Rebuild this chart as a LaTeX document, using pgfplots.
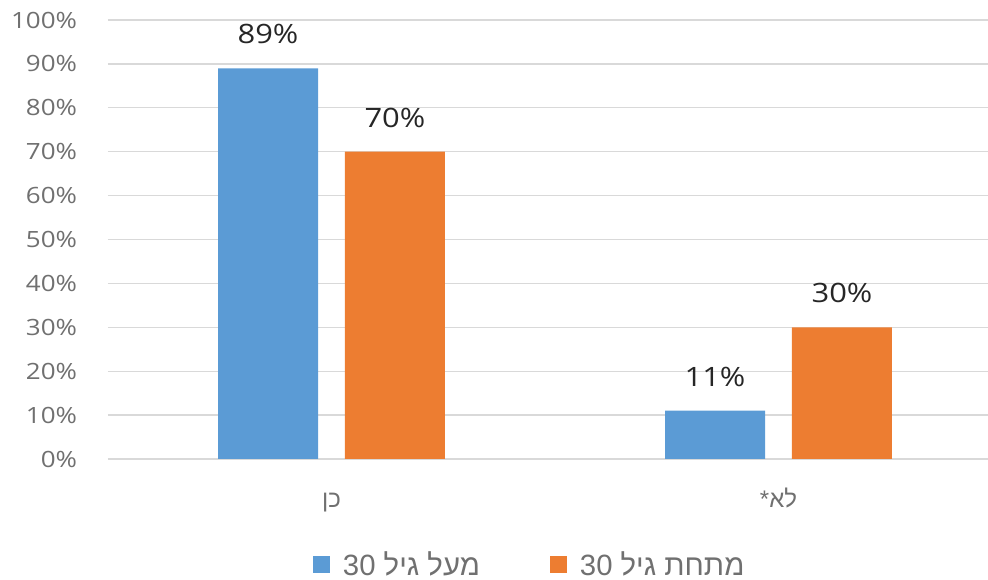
\documentclass[border=0pt]{standalone}
\usepackage{fontspec}
\setmainfont{Open Sans}[FakeStretch=1.16]
\newfontfamily\hebfont[Script=Hebrew]{Liberation Sans}
\TeXXeTstate=1
\usepackage{pgfplots}
\pgfplotsset{compat=1.18}

\definecolor{barblue}{HTML}{5B9BD5}
\definecolor{barorange}{HTML}{ED7D31}
\definecolor{gridgray}{HTML}{D9D9D9}
\definecolor{ticktext}{HTML}{707070}
\definecolor{labeltext}{HTML}{262626}

\begin{document}
\begin{tikzpicture}
% page = 988x580 px at 0.75pt/px, axis box at px (108..988, 20..459)
\useasboundingbox (-81pt,-90.75pt) rectangle (660pt,344.25pt);
\begin{axis}[
  at={(0,0)}, anchor=south west,
  scale only axis,
  width=660pt, height=329.25pt,
  xmin=-0.5, xmax=1.4687,
  ymin=0, ymax=100,
  axis line style={draw=none},
  tick style={draw=none},
  ytick={0,10,...,100},
  yticklabel={\pgfmathprintnumber{\tick}\%},
  /pgf/number format/assume math mode=true,
  yticklabel style={font=\fontsize{16.8}{20}\selectfont, color=ticktext, anchor=east, inner sep=0pt, xshift=-23pt},
  xtick={0,1},
  xticklabels={{\hebfont\beginR כן\endR},{\hebfont\beginR לא*\endR}},
  xticklabel style={font=\fontsize{18}{22}\selectfont, color=ticktext, anchor=base, inner sep=0pt, yshift=-32pt},
  ymajorgrids,
  grid style={gridgray, line width=1pt},
  ybar,
  bar width=0.2237,
  nodes near coords={\pgfmathprintnumber{\pgfplotspointmeta}\%},
  nodes near coords style={font=\fontsize{20}{24}\selectfont, color=labeltext, anchor=south, inner sep=0pt, yshift=18pt},
  legend image code/.code={\fill[#1] (0pt,-6.4pt) rectangle (12.75pt,6.4pt);},
  legend style={
    at={(0.233,-0.2403)}, anchor=west,
    draw=none, fill=none, inner sep=0pt,
    font=\fontsize{22}{26}\selectfont, text=ticktext,
    legend columns=2,
    /tikz/every odd column/.style={column sep=7.5pt},
    /tikz/every even column/.style={column sep=50.75pt},
  },
]
\addplot[fill=barblue, draw=none, bar shift=-0.142] coordinates {(0,89) (1,11)};
\addlegendentry{\hebfont\beginR מעל גיל 30\endR}
\addplot[fill=barorange, draw=none, bar shift=0.142] coordinates {(0,70) (1,30)};
\addlegendentry{\hebfont\beginR מתחת גיל 30\endR}
\end{axis}
\end{tikzpicture}
\end{document}
